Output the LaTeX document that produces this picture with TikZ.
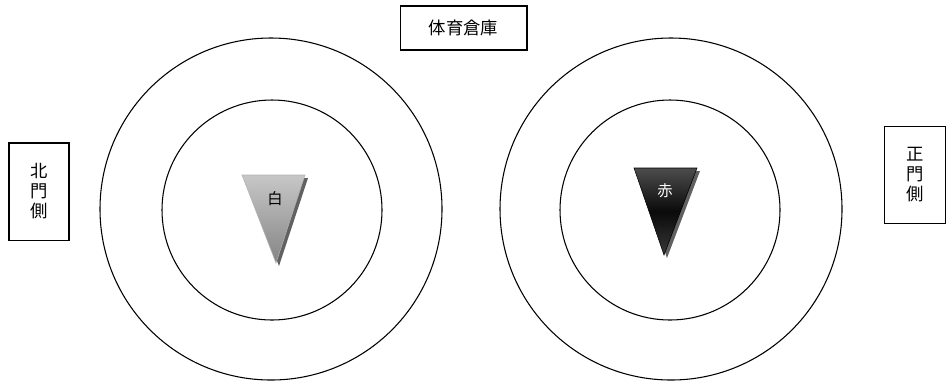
\documentclass[tikz,border=0pt]{standalone}
\usepackage{fontspec}
\setmainfont{Noto Sans CJK JP}
\usetikzlibrary{positioning}

\begin{document}
\begin{tikzpicture}[x=0.75pt,y=-0.75pt,
                    ring/.style={circle,draw,line width=0.8pt,inner sep=0pt},
                    sign box/.style={draw,line width=1pt,inner sep=0pt,align=center,
                                     font=\fontsize{13}{15}\selectfont},
                    flag shadow/.style={fill=black!62},
                    flag text/.style={font=\fontsize{11.5}{12}\selectfont}]
  \useasboundingbox (0,0) rectangle (948,380);
  % circles
  \node[ring,minimum size=256.5pt] (outerL) at (271,209) {};
  \node[ring,minimum size=165pt] (innerL) at (272,210) {};
  \node[ring,minimum size=256.5pt] (outerR) at (671,209) {};
  \node[ring,minimum size=165pt] (innerR) at (670,210) {};
  % signs
  \node[sign box,minimum width=95pt,minimum height=33pt] (store) at (463.5,28) {体育倉庫};
  \node[sign box,minimum width=45pt,minimum height=73pt] (north) at (39,191.5) {北\\門\\側};
  \node[sign box,minimum width=46pt,minimum height=73pt] (gate) at (915,175) {正\\門\\側};
  % white flag
  \coordinate (wa) at (242,175);
  \coordinate (wb) at (305,175);
  \coordinate (wc) at (276,263);
  \fill[flag shadow] ([shift={(3,3)}]wa) -- ([shift={(3,3)}]wb) -- ([shift={(3,3)}]wc) -- cycle;
  \path[top color=black!22,bottom color=black!48,draw=black!30,line width=0.4pt]
    (wa) -- (wb) -- (wc) -- cycle;
  \node[flag text] (white) at (275,199) {白};
  % red flag
  \coordinate (ra) at (634,168);
  \coordinate (rb) at (697,168);
  \coordinate (rc) at (664,255);
  \fill[flag shadow] ([shift={(3,3)}]ra) -- ([shift={(3,3)}]rb) -- ([shift={(3,3)}]rc) -- cycle;
  \path[top color=black!70,bottom color=black!78,middle color=black!96,draw=black,line width=0.4pt]
    (ra) -- (rb) -- (rc) -- cycle;
  \node[flag text,text=white] (red) at (665,191) {赤};
\end{tikzpicture}
\end{document}
